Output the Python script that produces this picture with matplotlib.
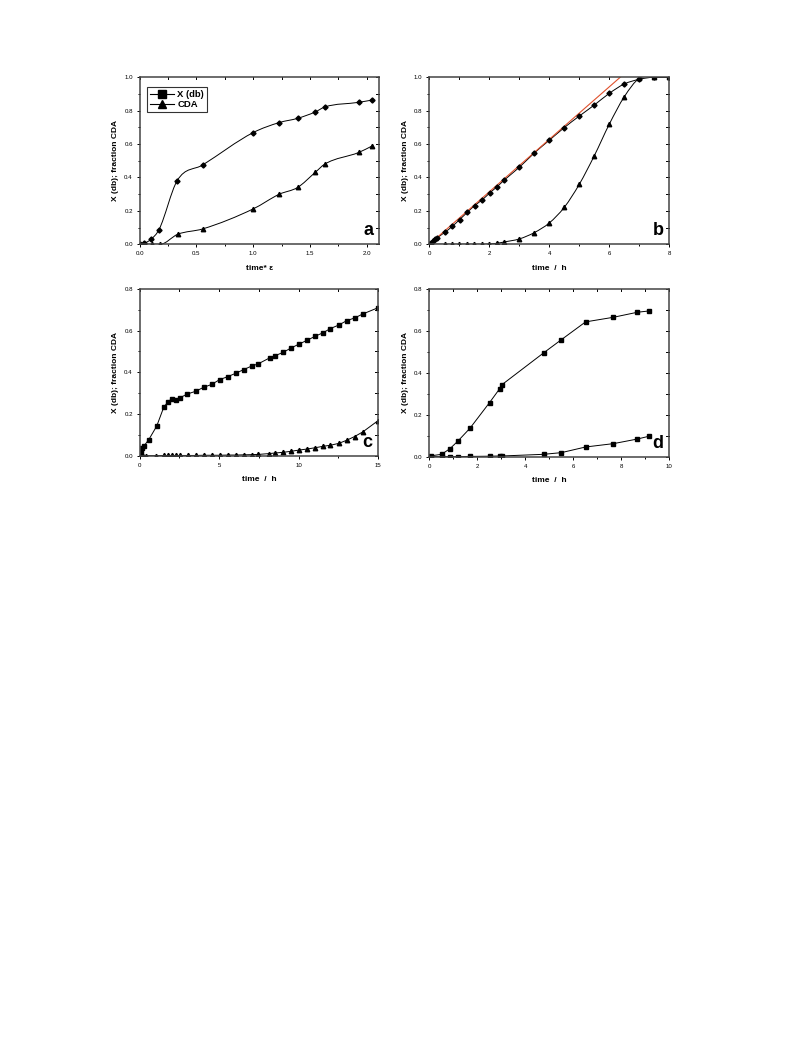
import numpy as np
import matplotlib
matplotlib.use('Agg')
import matplotlib.pyplot as plt
from matplotlib.path import Path
from matplotlib.patches import PathPatch
from matplotlib.ticker import MultipleLocator, FormatStrFormatter
from matplotlib.lines import Line2D

plt.rcParams['font.family'] = ['Liberation Sans', 'DejaVu Sans']

# panel a: X(db) and CDA vs time* epsilon
a_t = [0.0, 0.04, 0.10, 0.17, 0.33, 0.555, 1.0, 1.23, 1.39, 1.545, 1.63, 1.93, 2.05]
a_x = [0.0, 0.006, 0.03, 0.088, 0.381, 0.475, 0.669, 0.729, 0.754, 0.792, 0.822, 0.85, 0.864]
a_ct = [0.0, 0.05, 0.11, 0.18, 0.335, 0.555, 1.0, 1.23, 1.39, 1.545, 1.63, 1.93, 2.05]
a_c = [0.0, 0.0, 0.0, 0.0, 0.06, 0.092, 0.212, 0.30, 0.34, 0.43, 0.48, 0.55, 0.59]

# panel b
b_t = [0.0, 0.05, 0.12, 0.2, 0.27, 0.52, 0.77, 1.01, 1.27, 1.51, 1.77, 2.01, 2.26, 2.5,
       3.0, 3.5, 4.0, 4.5, 5.0, 5.5, 6.0, 6.5, 7.0, 7.5, 8.0]
b_x = [0.0, 0.008, 0.018, 0.03, 0.04, 0.072, 0.108, 0.148, 0.192, 0.232, 0.267, 0.307,
       0.345, 0.385, 0.461, 0.547, 0.623, 0.699, 0.768, 0.834, 0.904, 0.96, 0.988, 1.0, 1.0]
b_ct = [0.0, 0.52, 0.77, 1.0, 1.27, 1.5, 1.77, 2.0, 2.25, 2.5, 3.0, 3.5, 4.0, 4.5, 5.0,
        5.5, 6.0, 6.5, 7.0, 7.5, 8.0]
b_c = [0.0, 0.0, 0.0, 0.0, 0.0, 0.0, 0.0, 0.002, 0.006, 0.014, 0.032, 0.07, 0.128, 0.222,
       0.36, 0.531, 0.72, 0.884, 0.994, 1.0, 1.0]
b_fit_slope = 0.1572
b_fit_t = [0.0, 8.0]

# panel c
c_t = [0.0, 0.05, 0.1, 0.17, 0.25, 0.57, 1.07, 1.51, 1.78, 2.01, 2.3, 2.53, 3.0, 3.52,
       4.02, 4.53, 5.03, 5.53, 6.03, 6.54, 7.04, 7.44, 8.17, 8.53, 9.03, 9.53, 10.04,
       10.54, 11.04, 11.54, 12.0, 12.53, 13.03, 13.53, 14.04, 15.0]
c_x = [0.0, 0.01, 0.025, 0.035, 0.045, 0.077, 0.142, 0.232, 0.259, 0.272, 0.269, 0.278,
       0.296, 0.309, 0.328, 0.342, 0.365, 0.379, 0.395, 0.413, 0.43, 0.44, 0.469, 0.48,
       0.496, 0.517, 0.536, 0.554, 0.573, 0.59, 0.61, 0.627, 0.648, 0.661, 0.68, 0.71]
c_ct = [0.0, 0.1, 0.2, 0.42, 1.0, 1.53, 1.78, 2.03, 2.28, 2.56, 3.04, 3.52, 4.03, 4.55,
        5.03, 5.56, 6.04, 6.54, 7.05, 7.47, 8.14, 8.54, 9.02, 9.52, 10.04, 10.54, 11.04,
        11.54, 12.0, 12.53, 13.03, 13.53, 14.04, 15.0]
c_c = [0.0, 0.0, 0.0, 0.0, 0.0, 0.001, 0.001, 0.001, 0.001, 0.001, 0.001, 0.001, 0.002,
       0.002, 0.002, 0.003, 0.003, 0.004, 0.005, 0.006, 0.01, 0.013, 0.016, 0.021, 0.027,
       0.032, 0.038, 0.045, 0.05, 0.059, 0.074, 0.092, 0.114, 0.168]

# panel d
d_t = [0.0, 0.08, 0.51, 0.86, 1.18, 1.69, 2.51, 2.93, 3.01, 4.76, 5.5, 6.51, 7.67, 8.67, 9.14]
d_x = [0.0, 0.004, 0.011, 0.038, 0.073, 0.135, 0.258, 0.324, 0.342, 0.495, 0.558, 0.643,
       0.665, 0.689, 0.695]
d_c = [0.0, 0.0, 0.0, 0.0, 0.0, 0.001, 0.002, 0.003, 0.003, 0.011, 0.019, 0.046, 0.062,
       0.084, 0.097]


def smooth(ax, x, y, color='black', lw=0.7):
    """Smooth cubic Hermite curve through the points (x as parameter), as bezier path"""
    x = np.asarray(x, float)
    y = np.asarray(y, float)
    n = len(x)
    sec = np.diff(y) / np.diff(x)
    m = np.empty(n)
    m[0] = sec[0]
    m[-1] = sec[-1]
    for i in range(1, n - 1):
        if sec[i - 1] * sec[i] <= 0:
            m[i] = 0.0
        else:
            m[i] = 0.5 * (sec[i - 1] + sec[i])
    verts = [(x[0], y[0])]
    codes = [Path.MOVETO]
    for i in range(n - 1):
        h = x[i + 1] - x[i]
        verts += [(x[i] + h / 3, y[i] + m[i] * h / 3),
                  (x[i + 1] - h / 3, y[i + 1] - m[i + 1] * h / 3),
                  (x[i + 1], y[i + 1])]
        codes += [Path.CURVE4] * 3
    ax.add_patch(PathPatch(Path(verts, codes), fill=False, edgecolor=color, lw=lw))


def style(ax, xmax, xmaj, xmin, ymax, xfmt, xlabel, letter):
    ax.set_xlim(0, xmax)
    ax.set_ylim(0, ymax)
    ax.xaxis.set_major_locator(MultipleLocator(xmaj))
    ax.xaxis.set_minor_locator(MultipleLocator(xmin))
    ax.yaxis.set_major_locator(MultipleLocator(0.2))
    ax.yaxis.set_minor_locator(MultipleLocator(0.1))
    ax.xaxis.set_major_formatter(FormatStrFormatter(xfmt))
    ax.yaxis.set_major_formatter(FormatStrFormatter('%.1f'))
    ax.tick_params(which='both', direction='out', width=0.7, labelsize=4.4, pad=2.5)
    ax.tick_params(which='major', length=2.5)
    ax.tick_params(which='minor', length=1.5)
    # mirrored inward ticks on top and right
    for xv in np.arange(0, xmax + 1e-9, xmin):
        ax.plot([xv, xv], [ymax, ymax * 0.988], color='black', lw=0.7, clip_on=False)
    for yv in np.arange(0, ymax + 1e-9, 0.1):
        ax.plot([xmax, xmax * 0.988], [yv, yv], color='black', lw=0.7, clip_on=False)
    for s in ax.spines.values():
        s.set_linewidth(1.1)
        s.set_color('#444444')
    ax.set_xlabel(xlabel, fontsize=6, fontweight='bold', labelpad=6)
    ax.set_ylabel('X (db); fraction CDA', fontsize=6, fontweight='bold', labelpad=3.5)
    ax.text(0.975, 0.03, letter, transform=ax.transAxes, ha='right', va='bottom',
            fontsize=13, fontweight='bold')


fig = plt.figure(figsize=(7.93, 10.57), dpi=100)

# a
ax = fig.add_axes([0.1762, 0.7689, 0.3018, 0.1580])
smooth(ax, a_t, a_x)
smooth(ax, a_ct, a_c)
ax.plot(a_t, a_x, 'D', color='black', ms=2.6, ls='none')
ax.plot(a_ct, a_c, '^', color='black', ms=3.2, ls='none')
style(ax, 2.108, 0.5, 0.25, 1.0, '%.1f', 'time* ε', 'a')
handles = [Line2D([], [], color='black', marker='s', ms=5.5, lw=0.8),
           Line2D([], [], color='black', marker='^', ms=6, lw=0.8)]
leg = ax.legend(handles, ['X (db)', 'CDA'], loc='upper left', bbox_to_anchor=(0.03, 0.94),
                prop={'size': 6.8, 'weight': 'bold'}, fancybox=False, edgecolor='black',
                handlelength=2.6, handletextpad=0.3, borderpad=0.3, labelspacing=0.1,
                borderaxespad=0)
leg.get_frame().set_linewidth(0.8)

# b
ax = fig.add_axes([0.5414, 0.7689, 0.3027, 0.1580])
smooth(ax, b_t, b_x)
smooth(ax, b_ct, b_c)
ax.plot(b_fit_t, [b_fit_slope * t for t in b_fit_t], color='#e0502c', lw=0.8)
ax.plot(b_t, b_x, 'D', color='black', ms=2.6, ls='none')
ax.plot(b_ct, b_c, '^', color='black', ms=3.2, ls='none')
style(ax, 8, 2, 1, 1.0, '%d', 'time  /  h', 'b')

# c
ax = fig.add_axes([0.1762, 0.5689, 0.3005, 0.1577])
ax.plot(c_t, c_x, '-s', color='black', ms=3.0, lw=0.7)
ax.plot(c_ct, c_c, '-^', color='black', ms=3.2, lw=0.7)
style(ax, 15, 5, 2.5, 0.8, '%d', 'time  /  h', 'c')

# d
ax = fig.add_axes([0.5414, 0.5680, 0.3027, 0.1586])
ax.plot(d_t, d_x, '-s', color='black', ms=3.0, lw=0.7)
ax.plot(d_t, d_c, '-s', color='black', ms=3.0, lw=0.7)
style(ax, 10, 2, 1, 0.8, '%d', 'time  /  h', 'd')

fig.savefig('out.png', dpi=100)
